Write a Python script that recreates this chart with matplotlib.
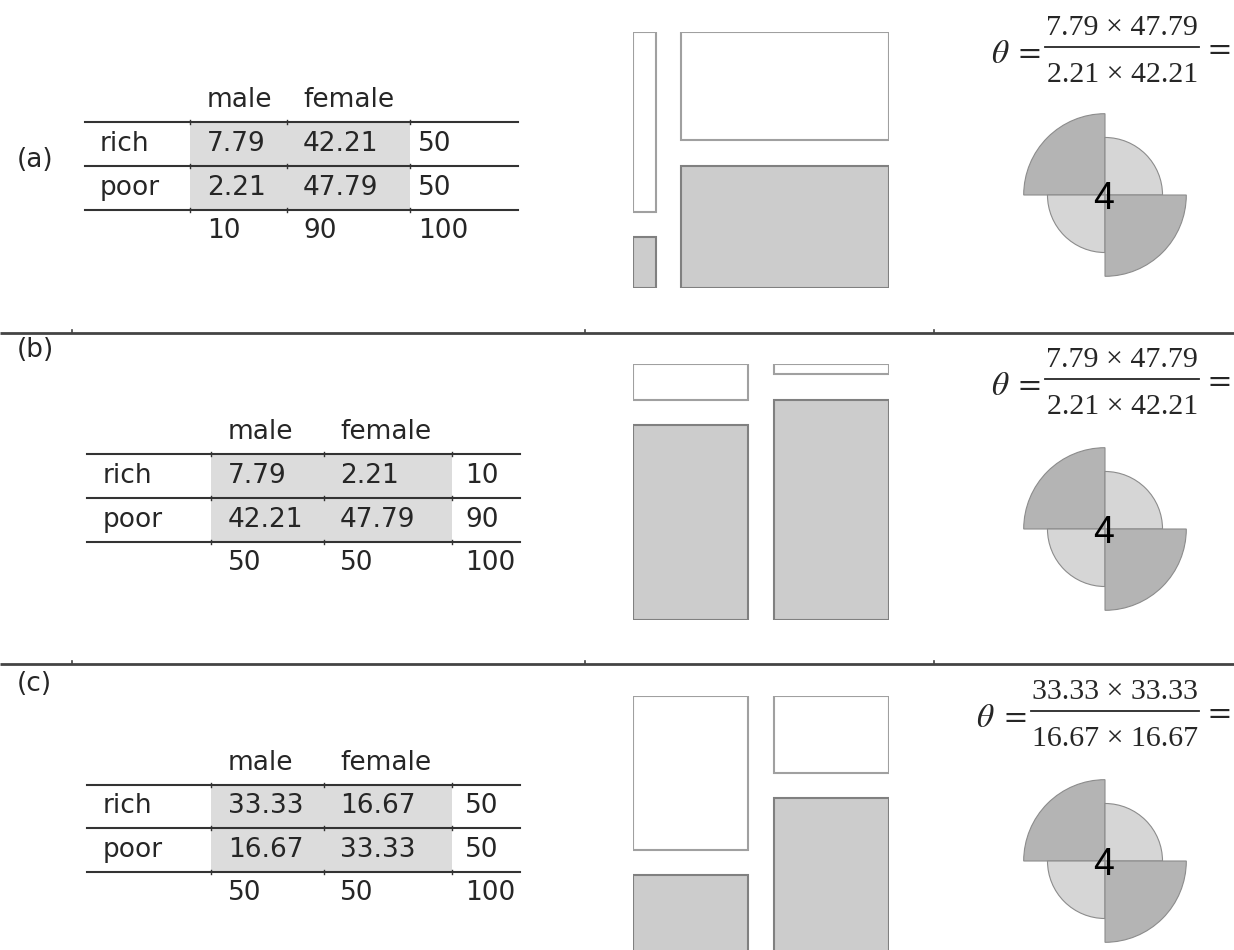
import numpy as np
import matplotlib
matplotlib.use("Agg")
import matplotlib.pyplot as plt
from matplotlib.patches import Rectangle, Wedge

# data
row_labels = ["rich", "poor"]
col_labels = ["male", "female"]
panel_labels = ["(a)", "(b)", "(c)"]
table_a = [[7.79, 42.21], [2.21, 47.79]]
table_b = [[7.79, 2.21], [42.21, 47.79]]
table_c = [[33.33, 16.67], [16.67, 33.33]]
tables = [table_a, table_b, table_c]

W, H = 1234, 950
plt.rcParams['mathtext.fontset'] = 'stix'
TXT = '#262626'
SERIF = 'Liberation Serif'

fig = plt.figure(figsize=(W / 100, H / 100), dpi=100)
base = fig.add_axes([0, 0, 1, 1])
base.set_xlim(0, W)
base.set_ylim(H, 0)
base.axis('off')
renderer = fig.canvas.get_renderer()


def box(x0, y0, w, h):
    return [x0 / W, 1 - (y0 + h) / H, w / W, h / H]


def fmt(v):
    return '{:g}'.format(round(v, 2))


def width_px(t):
    return t.get_window_extent(renderer).width


# layout per row (pixels)
lay = [
    dict(lab_y=160, lines=(122, 166, 210), lx=(85, 518), shade=(190, 410),
         cx=(100, 207, 303, 418), mos_top=32, ff_cy=195, eq_y=47),
    dict(lab_y=350, lines=(454, 498, 542), lx=(87, 520), shade=(211, 452),
         cx=(103, 228, 340, 465), mos_top=364, ff_cy=529, eq_y=379),
    dict(lab_y=684, lines=(785, 828, 872), lx=(87, 520), shade=(211, 452),
         cx=(103, 228, 340, 465), mos_top=696, ff_cy=861, eq_y=711),
]

# separators
for sy in (333, 664):
    base.plot([0, W], [sy, sy], color='#444444', lw=2, solid_capstyle='butt')
    for tx in (72, 585, 934):
        base.plot([tx, tx], [sy, sy - 3], color='#444444', lw=1.2)

for k, (tab, L) in enumerate(zip(tables, lay)):
    t = np.array(tab)
    rtot = t.sum(axis=1)
    ctot = t.sum(axis=0)
    tot = t.sum()

    # panel label
    base.text(17, L['lab_y'], panel_labels[k], fontsize=19, color=TXT,
              ha='left', va='center')

    # table
    l0, l1, l2 = L['lines']
    base.add_patch(Rectangle((L['shade'][0], l0), L['shade'][1] - L['shade'][0],
                             l2 - l0, facecolor='#dcdcdc', edgecolor='none', zorder=0))
    for ly in L['lines']:
        base.plot(L['lx'], [ly, ly], color='#333333', lw=1.5)
        for tx in (L['shade'][0], (L['cx'][2] - 16), L['shade'][1]):
            base.plot([tx, tx], [ly - 2, ly + 2], color='#333333', lw=1)
    cx = L['cx']
    fs = 19
    for j, c in enumerate(col_labels):
        base.text(cx[1 + j], l0 - 15, c, fontsize=fs, color=TXT, va='baseline')
    rows_base = (l1 - 15, l2 - 15)
    for i, r in enumerate(row_labels):
        base.text(cx[0], rows_base[i], r, fontsize=fs, color=TXT, va='baseline')
        for j in range(2):
            base.text(cx[1 + j], rows_base[i], fmt(t[i, j]), fontsize=fs,
                      color=TXT, va='baseline')
        base.text(cx[3], rows_base[i], fmt(rtot[i]), fontsize=fs, color=TXT,
                  va='baseline')
    for j in range(2):
        base.text(cx[1 + j], l2 + 28, fmt(ctot[j]), fontsize=fs, color=TXT,
                  va='baseline')
    base.text(cx[3], l2 + 28, fmt(tot), fontsize=fs, color=TXT, va='baseline')

    # mosaic
    gap = 11
    ax = fig.add_axes(box(633, L['mos_top'], 256, 256))
    ax.set_xlim(0, 100 + gap)
    ax.set_ylim(100 + gap, 0)
    ax.axis('off')
    x0 = 0
    for j in range(2):
        w = ctot[j] / tot * 100
        y0 = 0
        for i in range(2):
            h = t[i, j] / ctot[j] * 100
            fc = 'white' if i == 0 else '#cccccc'
            ec = '#a0a0a0' if i == 0 else '#808080'
            ax.add_patch(Rectangle((x0, y0), w, h, facecolor=fc, edgecolor=ec, lw=1.5))
            y0 += h + gap
        x0 += w + gap

    # fourfold (standardized margins)
    s = t.copy()
    for _ in range(50):
        s = s / s.sum(axis=1, keepdims=True) * 50
        s = s / s.sum(axis=0, keepdims=True) * 50
    fx = fig.add_axes(box(1105 - 100, L['ff_cy'] - 100, 200, 200))
    fx.set_xlim(-0.71, 0.71)
    fx.set_ylim(-0.71, 0.71)
    fx.axis('off')
    angles = {(0, 0): (90, 180), (0, 1): (0, 90), (1, 0): (180, 270), (1, 1): (270, 360)}
    for (i, j), (a0, a1) in angles.items():
        r = np.sqrt(s[i, j] / s.sum())
        fc = '#b4b4b4' if s[i, j] > 25 else '#d6d6d6'
        fx.add_patch(Wedge((0, 0), r, a0, a1, facecolor=fc, edgecolor='#8c8c8c', lw=0.8))
    odds = t[0, 0] * t[1, 1] / (t[0, 1] * t[1, 0])
    fx.text(-0.01, -0.025, '{:d}'.format(int(round(odds))), fontsize=27,
            family='Liberation Sans', ha='center', va='center', color='black')

    # formula, built from pieces
    num = sorted([t[0, 0], t[1, 1]])
    den = sorted([t[0, 1], t[1, 0]])
    ey = L['eq_y']
    efs = 21.5
    teq = base.text(1231, ey + 1, r'$=$', fontsize=23, ha='right',
                    va='center', color=TXT)
    tn = base.text(0, ey - 12, '%s \u00d7 %s' % (fmt(num[0]), fmt(num[1])),
                   fontsize=efs, family=SERIF, ha='center', va='baseline', color=TXT)
    td = base.text(0, ey + 35, '%s \u00d7 %s' % (fmt(den[0]), fmt(den[1])),
                   fontsize=efs, family=SERIF, ha='center', va='baseline', color=TXT)
    bw = max(width_px(tn), width_px(td)) + 2
    bar_r = 1231 - width_px(teq) - 5
    bar_l = bar_r - bw
    tn.set_x((bar_l + bar_r) / 2)
    td.set_x((bar_l + bar_r) / 2)
    base.plot([bar_l, bar_r], [ey, ey], color=TXT, lw=1.3)
    t1 = base.text(bar_l - 4, ey + 5, r'$=$', fontsize=23, ha='right',
                   va='center', color=TXT)
    base.text(bar_l - 4 - width_px(t1) - 5, ey + 16, r'$\theta$', fontsize=24,
              ha='right', va='baseline', color=TXT)

fig.savefig('out.png', dpi=100)
